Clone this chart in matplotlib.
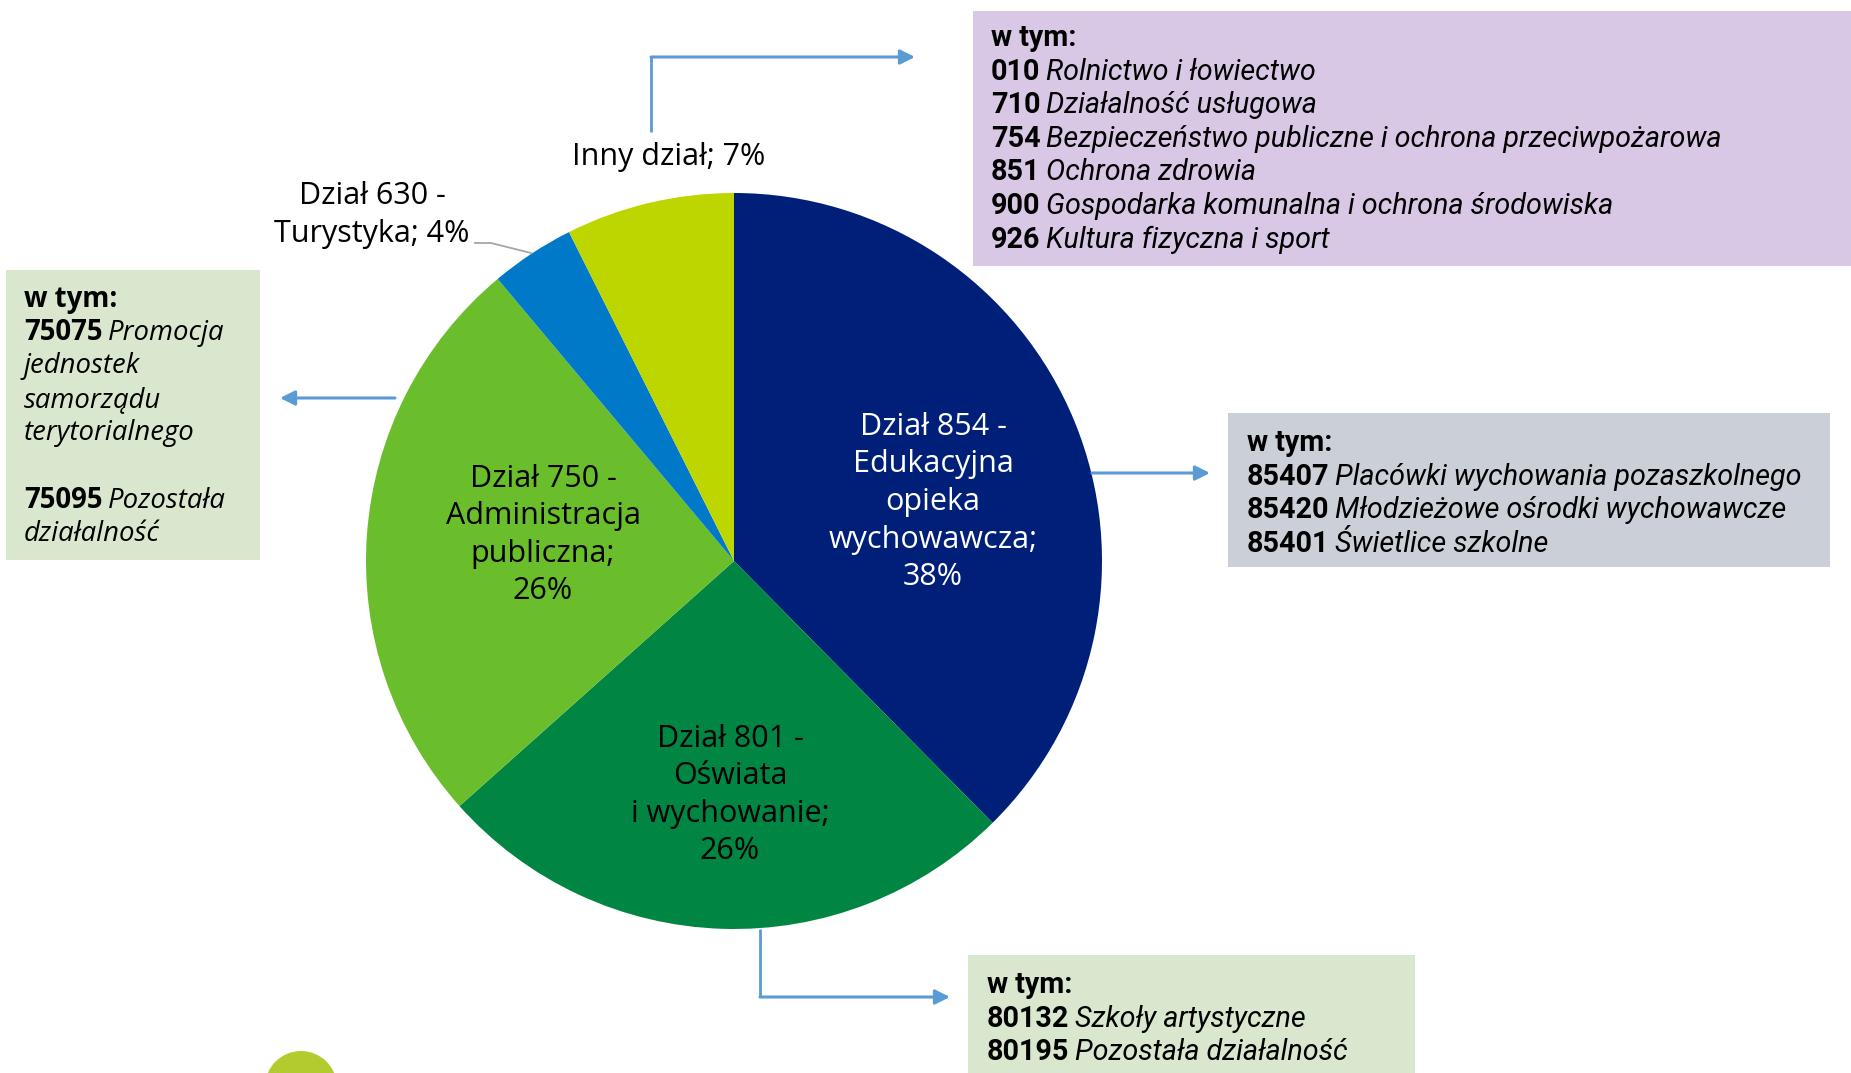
import matplotlib
matplotlib.use("Agg")
import matplotlib.pyplot as plt
from matplotlib.patches import Rectangle, Circle

# ---------------- data ----------------
categories = ["Dział 854 - Edukacyjna opieka wychowawcza", "Dział 801 - Oświata i wychowanie",
              "Dział 750 - Administracja publiczna", "Dział 630 - Turystyka", "Inny dział"]
values = [37.6, 25.8, 25.5, 3.7, 7.4]
pct_labels = ["38%", "26%", "26%", "4%", "7%"]
colors = ["#001F78", "#008542", "#6ABD2B", "#0079C8", "#BED600"]

box_other = [("010", "Rolnictwo i łowiectwo"), ("710", "Działalność usługowa"),
             ("754", "Bezpieczeństwo publiczne i ochrona przeciwpożarowa"),
             ("851", "Ochrona zdrowia"), ("900", "Gospodarka komunalna i ochrona środowiska"),
             ("926", "Kultura fizyczna i sport")]
box_854 = [("85407", "Placówki wychowania pozaszkolnego"), ("85420", "Młodzieżowe ośrodki wychowawcze"),
           ("85401", "Świetlice szkolne")]
box_801 = [("80132", "Szkoły artystyczne"), ("80195", "Pozostała działalność")]
box_750 = [("75075", "Promocja", ["jednostek", "samorządu", "terytorialnego"]),
           ("75095", "Pozostała", ["działalność"])]

W, H = 1851, 1073
def Y(y):
    return H - y

fig = plt.figure(figsize=(W / 100, H / 100), dpi=100)
ax = fig.add_axes([0, 0, 1, 1])

cx, cy, R = 734, 561, 368
wedges, _ = ax.pie(values, colors=colors, startangle=90, counterclock=False,
                   center=(cx, Y(cy)), radius=R, wedgeprops=dict(linewidth=0))
ax.set_xlim(0, W)
ax.set_ylim(0, H)
ax.set_aspect("equal")
ax.axis("off")

LBL_FONT = ["Open Sans", "DejaVu Sans"]
BOX_FONT = ["Roboto", "DejaVu Sans"]
LEFT_FONT = ["Open Sans", "DejaVu Sans"]
ARROW = "#5B9BD5"
fs = 22
ls = 1.33

# pie labels
ax.text(933, Y(502), "Dział 854 -\nEdukacyjna\nopieka\nwychowawcza;\n" + pct_labels[0],
        ha="center", va="center", color="white", fontsize=fs, family=LBL_FONT, linespacing=ls)
ax.text(730, Y(795), "Dział 801 -\nOświata\ni wychowanie;\n" + pct_labels[1],
        ha="center", va="center", color="black", fontsize=fs, family=LBL_FONT, linespacing=ls)
ax.text(543, Y(535), "Dział 750 -\nAdministracja\npubliczna;\n" + pct_labels[2],
        ha="center", va="center", color="black", fontsize=fs, family=LBL_FONT, linespacing=ls)
ax.text(372, Y(215), "Dział 630 -\nTurystyka; " + pct_labels[3],
        ha="center", va="center", color="black", fontsize=fs, family=LBL_FONT, linespacing=ls)
ax.text(669, Y(157), "Inny dział; " + pct_labels[4],
        ha="center", va="center", color="black", fontsize=fs, family=LBL_FONT)
# leader line for 630
ax.plot([475, 491, 531], [Y(243), Y(243), Y(253)], color="#A6A6A6", lw=1.3)

# boxes
def box(x0, y0, x1, y1, color):
    ax.add_patch(Rectangle((x0, Y(y1)), x1 - x0, y1 - y0, facecolor=color, edgecolor="none", zorder=1))

box(973, 11, 1851, 266, "#D8C7E5")
box(6, 270, 260, 560, "#D8E7CD")
box(1228, 413, 1830, 567, "#CBCFD8")
box(968, 955, 1415, 1080, "#D8E7CD")

def line(x, y, bold, italic, family, size):
    t = ax.text(x, Y(y), bold, ha="left", va="center", fontsize=size, family=family,
                fontweight="bold", color="black", zorder=3)
    if italic:
        ax.annotate(italic, xy=(1, 0), xycoords=t, xytext=(4, 0), textcoords="offset points",
                    ha="left", va="bottom", fontsize=size, family=family, fontstyle="italic",
                    color="black", zorder=3)
    return t

def italic_only(x, y, txt, family, size):
    ax.text(x, Y(y), txt, ha="left", va="center", fontsize=size, family=family,
            fontstyle="italic", color="black", zorder=3)

sp = 33.6
bfs = 20.7
# purple box
line(991, 38, "w tym:", None, BOX_FONT, bfs)
for i, (c, t) in enumerate(box_other):
    line(991, 38 + sp * (i + 1), c, t, BOX_FONT, bfs)
# grey box
line(1247, 443, "w tym:", None, BOX_FONT, bfs)
for i, (c, t) in enumerate(box_854):
    line(1247, 443 + sp * (i + 1), c, t, BOX_FONT, bfs)
# bottom box
line(987, 985, "w tym:", None, BOX_FONT, bfs)
for i, (c, t) in enumerate(box_801):
    line(987, 985 + sp * (i + 1), c, t, BOX_FONT, bfs)
# left box
lfs = 19.8
yy = 299
line(24, yy, "w tym:", None, LEFT_FONT, lfs)
for j, (c, t, rest) in enumerate(box_750):
    if j > 0:
        yy += sp
    yy += sp
    line(24, yy, c, t, LEFT_FONT, lfs)
    for r in rest:
        yy += sp
        italic_only(24, yy, r, LEFT_FONT, lfs)

# connector arrows
def arrow(points):
    xs = [p[0] for p in points[:-1]]
    ys = [Y(p[1]) for p in points[:-1]]
    if len(points) > 2:
        ax.plot(xs, ys, color=ARROW, lw=2, solid_capstyle="butt", zorder=2)
    ax.annotate("", xy=(points[-1][0], Y(points[-1][1])),
                xytext=(points[-2][0], Y(points[-2][1])),
                arrowprops=dict(arrowstyle="-|>", color=ARROW, lw=2.2, mutation_scale=22,
                                shrinkA=0, shrinkB=0), zorder=2)

arrow([(651, 132), (651, 57), (915, 57)])
arrow([(395, 398), (280, 398)])
arrow([(1092, 473), (1210, 473)])
arrow([(760, 929), (760, 997), (950, 997)])

# logo fragment bottom-left
ax.add_patch(Circle((301, Y(1087)), 36, facecolor="#B3CB2F", edgecolor="none", zorder=1))

fig.savefig("out.png", dpi=100)
